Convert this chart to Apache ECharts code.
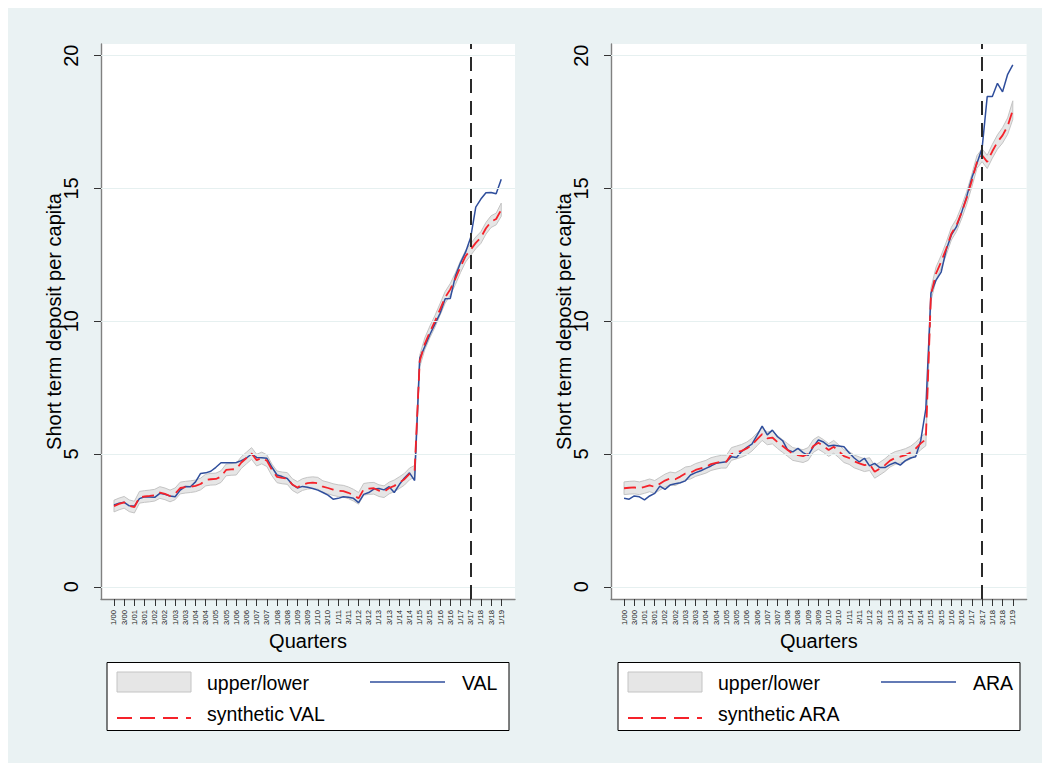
<!DOCTYPE html>
<html><head><meta charset="utf-8">
<script src="https://cdn.jsdelivr.net/npm/echarts@6/dist/echarts.min.js"></script>
<style>html,body{margin:0;padding:0;background:#fff}#c{width:1050px;height:771px}</style>
</head><body><div id="c"></div>
<script>
// ---- tick labels (every second quarter) ----
const tickLabels = ["1/00","3/00","1/01","3/01","1/02","3/02","1/03","3/03","1/04","3/04","1/05","3/05","1/06","3/06","1/07","3/07","1/08","3/08","1/09","3/09","1/10","3/10","1/11","3/11","1/12","3/12","1/13","3/13","1/14","3/14","1/15","3/15","1/16","3/16","1/17","3/17","1/18","3/18","1/19"];
const yTicks = [0, 5, 10, 15, 20];
const treatmentQuarter = 70; // 3/17

// ---- left panel: VAL ----
const valActual = [3.08,3.15,3.18,3.05,3.04,3.32,3.39,3.38,3.37,3.52,3.48,3.42,3.39,3.64,3.78,3.77,3.95,4.27,4.29,4.35,4.5,4.67,4.67,4.67,4.68,4.75,4.85,5.0,4.87,4.86,4.84,4.5,4.21,4.15,4.08,3.85,3.72,3.78,3.75,3.7,3.64,3.55,3.45,3.3,3.33,3.39,3.37,3.33,3.17,3.48,3.55,3.68,3.7,3.65,3.77,3.55,3.85,4.1,4.29,4.0,8.6,9.05,9.5,9.9,10.3,10.85,10.86,11.7,12.2,12.6,13.15,14.3,14.6,14.84,14.85,14.8,15.35];
const valSynthetic = [3.04,3.12,3.18,3.05,3.0,3.37,3.4,3.42,3.45,3.55,3.5,3.42,3.5,3.72,3.75,3.77,3.8,3.87,4.02,4.05,4.06,4.15,4.4,4.42,4.43,4.68,4.85,5.02,4.77,4.85,4.75,4.4,4.14,4.1,4.08,3.85,3.74,3.85,3.9,3.92,3.9,3.77,3.72,3.66,3.62,3.6,3.54,3.45,3.33,3.67,3.7,3.71,3.62,3.58,3.72,3.8,3.92,4.05,4.25,4.35,8.5,9.15,9.6,10.0,10.45,10.9,11.2,11.6,12.05,12.45,12.7,12.95,13.15,13.5,13.75,13.85,14.2];
const valUpper = [3.26,3.34,3.4,3.27,3.22,3.59,3.62,3.64,3.67,3.77,3.72,3.64,3.72,3.94,3.97,3.99,4.02,4.09,4.24,4.27,4.28,4.37,4.62,4.64,4.65,4.9,5.07,5.24,4.99,5.07,4.97,4.62,4.36,4.32,4.3,4.07,3.96,4.07,4.12,4.14,4.12,3.99,3.94,3.88,3.84,3.82,3.76,3.67,3.55,3.89,3.92,3.93,3.84,3.8,3.94,4.02,4.14,4.27,4.47,4.57,8.72,9.37,9.82,10.22,10.67,11.12,11.42,11.82,12.27,12.67,12.92,13.17,13.37,13.72,13.97,14.07,14.45];
const valLower = [2.82,2.9,2.96,2.83,2.78,3.15,3.18,3.2,3.23,3.33,3.28,3.2,3.28,3.5,3.53,3.55,3.58,3.65,3.8,3.83,3.84,3.93,4.18,4.2,4.21,4.46,4.63,4.8,4.55,4.63,4.53,4.18,3.92,3.88,3.86,3.63,3.52,3.63,3.68,3.7,3.68,3.55,3.5,3.44,3.4,3.38,3.32,3.23,3.11,3.45,3.48,3.49,3.4,3.36,3.5,3.58,3.7,3.83,4.03,4.13,8.28,8.93,9.38,9.78,10.23,10.68,10.98,11.38,11.83,12.23,12.48,12.73,12.93,13.28,13.53,13.63,13.95];

// ---- right panel: ARA ----
const araActual = [3.33,3.3,3.42,3.39,3.27,3.42,3.52,3.79,3.67,3.83,3.88,3.92,3.99,4.21,4.3,4.37,4.46,4.55,4.65,4.68,4.71,4.9,4.87,5.1,5.25,5.37,5.7,6.05,5.72,5.9,5.65,5.5,5.15,5.08,5.21,5.05,4.95,5.27,5.53,5.45,5.3,5.33,5.3,5.27,5.05,4.85,4.7,4.84,4.55,4.65,4.49,4.49,4.6,4.68,4.58,4.75,4.85,4.9,5.5,6.7,11.05,11.55,11.85,12.7,13.25,13.56,14.1,14.7,15.4,15.95,16.51,18.46,18.46,18.96,18.64,19.3,19.65];
const araSynthetic = [3.71,3.73,3.74,3.71,3.76,3.82,3.76,3.88,4.0,4.08,4.05,4.15,4.27,4.3,4.4,4.46,4.52,4.62,4.67,4.71,4.71,5.0,5.06,5.12,5.21,5.35,5.55,5.75,5.59,5.62,5.45,5.3,5.15,5.0,4.96,4.92,5.0,5.3,5.42,5.3,5.15,5.27,5.1,4.92,4.85,4.72,4.65,4.58,4.62,4.33,4.45,4.58,4.75,4.85,4.9,4.96,5.05,5.2,5.4,5.55,11.0,11.8,12.24,12.74,13.3,13.62,14.1,14.65,15.3,16.0,16.25,16.0,16.4,16.75,17.0,17.35,17.95];
const araUpper = [3.95,3.97,3.98,3.95,4.0,4.06,4.0,4.12,4.24,4.32,4.29,4.39,4.51,4.54,4.64,4.7,4.76,4.86,4.91,4.95,4.95,5.24,5.3,5.36,5.45,5.59,5.79,5.99,5.83,5.86,5.69,5.54,5.39,5.24,5.2,5.16,5.24,5.54,5.66,5.54,5.39,5.51,5.34,5.16,5.09,4.96,4.89,4.82,4.86,4.57,4.69,4.82,4.99,5.09,5.14,5.2,5.29,5.44,5.64,5.79,11.24,12.04,12.48,12.98,13.54,13.86,14.34,14.89,15.54,16.24,16.49,16.25,16.66,17.02,17.29,17.66,18.3];
const araLower = [3.47,3.49,3.5,3.47,3.52,3.58,3.52,3.64,3.76,3.84,3.81,3.91,4.03,4.06,4.16,4.22,4.28,4.38,4.43,4.47,4.47,4.76,4.82,4.88,4.97,5.11,5.31,5.51,5.35,5.38,5.21,5.06,4.91,4.76,4.72,4.68,4.76,5.06,5.18,5.06,4.91,5.03,4.86,4.68,4.61,4.48,4.41,4.34,4.38,4.09,4.21,4.34,4.51,4.61,4.66,4.72,4.81,4.96,5.16,5.31,10.76,11.56,12.0,12.5,13.06,13.38,13.86,14.41,15.06,15.76,16.01,15.75,16.14,16.48,16.71,17.04,17.6];

const F = '"Liberation Sans", Arial, Helvetica, sans-serif';
const tickPos = tickLabels.map((_, k) => k * 2);
const BLUE = '#2f4e9c', RED = '#f5222a';

function xAxisCfg(gi) {
  return {
    type: 'value', gridIndex: gi, min: -2.55, max: 78.7,
    name: 'Quarters', nameLocation: 'middle', nameGap: 32, nameMoveOverlap: false,
    nameTextStyle: { fontSize: 20, color: '#000', fontFamily: F },
    axisLine: { show: true, onZero: false, lineStyle: { color: '#808080', width: 1.4 } },
    axisTick: { show: true, inside: false, length: 7, customValues: tickPos, lineStyle: { color: '#333', width: 1 } },
    axisLabel: { customValues: tickPos, rotate: 90, fontSize: 7.7, color: '#222', margin: 11, fontFamily: F,
      formatter: v => tickLabels[Math.round(v / 2)] },
    splitLine: { show: false }
  };
}
function yAxisCfg(gi) {
  return {
    type: 'value', gridIndex: gi, min: -0.46, max: 20.44,
    name: 'Short term deposit per capita', nameLocation: 'middle', nameGap: 37, nameMoveOverlap: false,
    nameTextStyle: { fontSize: 20, color: '#000', fontFamily: F },
    axisLine: { show: true, onZero: false, lineStyle: { color: '#808080', width: 1.4 } },
    axisTick: { show: true, inside: false, length: 7, customValues: yTicks, lineStyle: { color: '#333', width: 1 } },
    axisLabel: { customValues: yTicks, rotate: 90, fontSize: 20, color: '#000', margin: 20, fontFamily: F },
    splitLine: { show: false }
  };
}
const pairs = arr => arr.map((v, i) => [i, v]);

function panelSeries(gi, actual, synth, upper, lower) {
  return [
    { // horizontal grid lines
      type: 'line', xAxisIndex: gi, yAxisIndex: gi, z: 1, silent: true, symbol: 'none',
      data: pairs(actual), lineStyle: { opacity: 0 },
      markLine: { silent: true, symbol: ['none', 'none'], label: { show: false },
        lineStyle: { color: '#e6f0f0', width: 1, type: 'solid' },
        data: yTicks.map(v => ({ yAxis: v })) }
    },
    { // confidence band
      type: 'custom', xAxisIndex: gi, yAxisIndex: gi, z: 2, silent: true,
      data: upper.map((u, i) => [i, lower[i], u]),
      encode: { x: 0, y: [1, 2] },
      renderItem: (params, api) => {
        if (params.dataIndex !== 0) return;
        const pts = [];
        for (let i = 0; i < upper.length; i++) pts.push(api.coord([i, upper[i]]));
        for (let i = lower.length - 1; i >= 0; i--) pts.push(api.coord([i, lower[i]]));
        return { type: 'polygon', shape: { points: pts },
          style: { fill: '#e6e6e6', stroke: '#c4c4c4', lineWidth: 1 } };
      }
    },
    {
      type: 'line', xAxisIndex: gi, yAxisIndex: gi, z: 3, symbol: 'none',
      data: pairs(actual), lineStyle: { color: BLUE, width: 1.5 },
      markLine: { silent: true, symbol: ['none', 'none'], label: { show: false },
        lineStyle: { color: '#2a2a2a', width: 2, type: [14, 8] },
        data: [{ xAxis: treatmentQuarter }] }
    },
    {
      type: 'line', xAxisIndex: gi, yAxisIndex: gi, z: 4, symbol: 'none',
      data: pairs(synth), lineStyle: { color: RED, width: 1.8, type: [12, 6] }
    }
  ];
}

function legendGraphics(ox, name) {
  const t = (x, y, s) => ({ type: 'text', x: x + ox, y: y,
    style: { text: s, fontSize: 19.5, fontFamily: F, fill: '#000', verticalAlign: 'middle', align: 'left' } });
  return [
    { type: 'rect', shape: { x: 107 + ox, y: 662.5, width: 402, height: 68 },
      style: { fill: '#fff', stroke: '#000', lineWidth: 1 } },
    { type: 'rect', shape: { x: 117 + ox, y: 672, width: 74, height: 20 },
      style: { fill: '#e6e6e6', stroke: '#c4c4c4', lineWidth: 1 } },
    t(207, 683, 'upper/lower'),
    { type: 'line', shape: { x1: 370 + ox, y1: 682, x2: 445 + ox, y2: 682 },
      style: { stroke: BLUE, lineWidth: 1.5 } },
    t(462, 683, name),
    { type: 'line', shape: { x1: 117 + ox, y1: 718, x2: 191 + ox, y2: 718 },
      style: { stroke: RED, lineWidth: 1.8, lineDash: [15, 8] } },
    t(207, 714, 'synthetic ' + name)
  ];
}

const chart = echarts.init(document.getElementById('c'), null, { renderer: 'svg' });
chart.setOption({
  animation: false,
  textStyle: { fontFamily: F },
  graphic: [
    { type: 'rect', z: -10, shape: { x: 8, y: 8, width: 1034, height: 755 }, style: { fill: '#eaf2f3' } },
    ...legendGraphics(0, 'VAL'),
    ...legendGraphics(511, 'ARA')
  ],
  grid: [
    { left: 101, top: 44, width: 414, height: 555, show: true, backgroundColor: '#fff', borderWidth: 0 },
    { left: 611, top: 44, width: 415.6, height: 555, show: true, backgroundColor: '#fff', borderWidth: 0 }
  ],
  xAxis: [xAxisCfg(0), xAxisCfg(1)],
  yAxis: [yAxisCfg(0), yAxisCfg(1)],
  series: [
    ...panelSeries(0, valActual, valSynthetic, valUpper, valLower),
    ...panelSeries(1, araActual, araSynthetic, araUpper, araLower)
  ]
});
</script>
</body></html>
